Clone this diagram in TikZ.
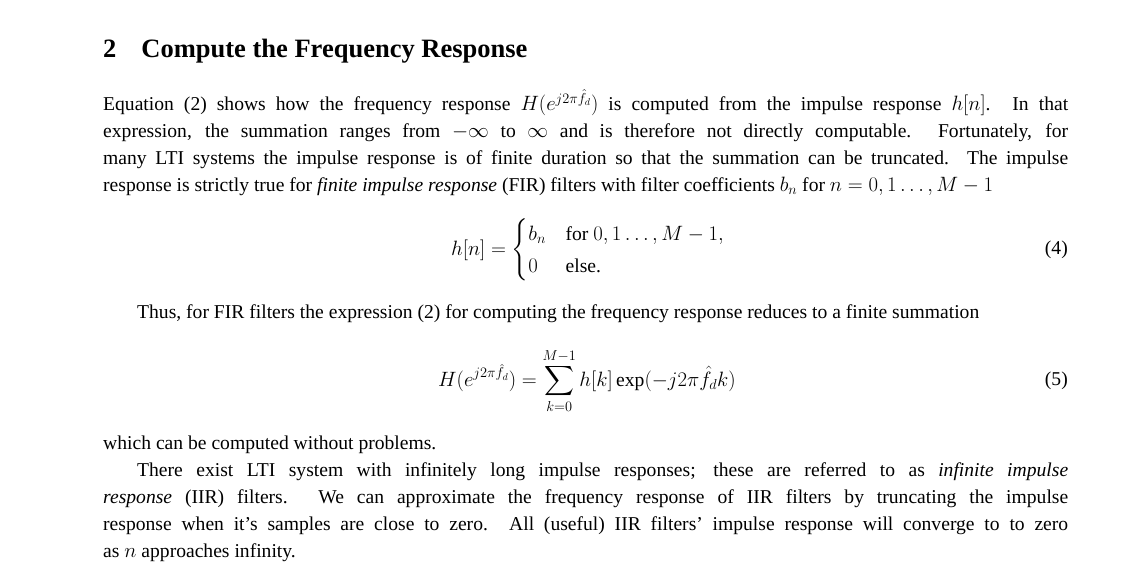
\documentclass[tikz,border=0pt]{standalone}
\usepackage{amsmath}
\usepackage{fontspec}
\setmainfont{Liberation Serif}
\begin{document}
\begin{tikzpicture}[x=1pt,y=1pt,
  txt/.style={inner sep=0pt,align=justify,font=\fontsize{19.6}{27}\selectfont}]
\useasboundingbox (0,0) rectangle (1140,-574);
\node[txt,anchor=base west] (h) at (103,-57) {\fontsize{26.5}{30}\selectfont\bfseries 2\hspace{25pt}Compute the Frequency Response};
\node[txt,anchor=north west,text width=965pt] (p1) at (103,-89) {Equation (2) shows how the frequency response $H(e^{j2\pi\hat f_d})$ is computed from the impulse response $h[n]$. In that\linebreak expression, the summation ranges from $-\infty$ to $\infty$ and is therefore not directly computable. Fortunately, for\linebreak many LTI systems the impulse response is of finite duration so that the summation can be truncated. The impulse\linebreak response is strictly true for \textit{finite impulse response} (FIR) filters with filter coefficients $b_n$ for $n=0,1\ldots,M-1$};
\node[txt] (e4) at (588,-250) {$h[n]=\begin{cases} b_n & \text{for } 0,1\ldots,M-1,\\ 0 & \text{else.}\end{cases}$};
\node[txt,anchor=east] (n4) at (1068,-250) {(4)};
\node[txt,anchor=base west,text width=931pt] (p2) at (137,-318) {Thus, for FIR filters the expression (2) for computing the frequency response reduces to a finite summation};
\node[txt] (e5) at (587,-381) {$\displaystyle H(e^{j2\pi\hat f_d})=\sum_{k=0}^{M-1}h[k]\exp(-j2\pi\hat f_d k)$};
\node[txt,anchor=east] (n5) at (1068,-381) {(5)};
\node[txt,anchor=base west] (p3) at (103,-449) {which can be computed without problems.};
\node[txt,anchor=north west,text width=965pt] (p4) at (103,-462) {\hspace*{34pt}There exist LTI system with infinitely long impulse responses; these are referred to as \textit{infinite impulse}\linebreak \textit{response} (IIR) filters. We can approximate the frequency response of IIR filters by truncating the impulse\linebreak response when it's samples are close to zero. All (useful) IIR filters' impulse response will converge to to zero\linebreak as $n$ approaches infinity.};
\end{tikzpicture}
\end{document}
